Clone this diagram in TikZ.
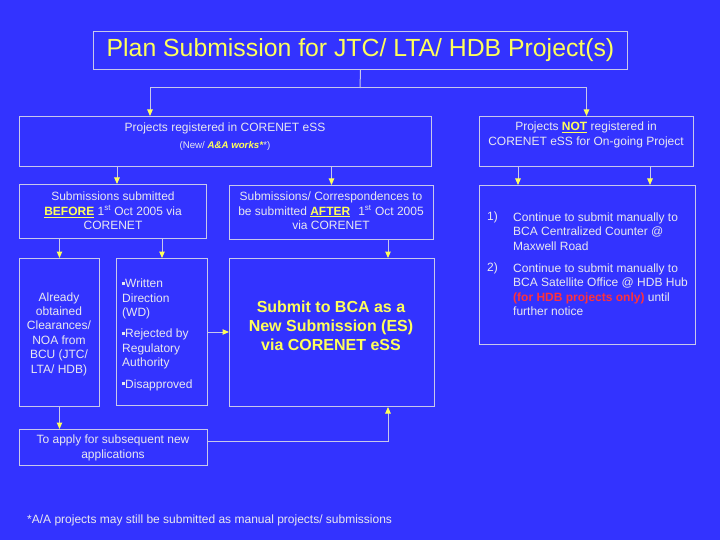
\documentclass[tikz,border=0pt]{standalone}
\usepackage{fontspec}
\setmainfont{Liberation Sans}
\usetikzlibrary{arrows.meta}
\definecolor{bg}{RGB}{51,51,255}
\definecolor{ln}{RGB}{200,200,235}
\definecolor{tx}{RGB}{232,232,240}
\definecolor{yl}{RGB}{255,255,90}
\definecolor{rd}{RGB}{255,50,60}
\newcommand\sqb{\raisebox{2.8pt}{\rule{3pt}{3pt}}}
\begin{document}
\begin{tikzpicture}[x=1pt,y=-1pt,
  box/.style={draw=ln, line width=1pt, inner sep=0pt, anchor=north west},
  txt/.style={text=tx, font=\fontsize{12}{14.5}\selectfont, align=center, inner sep=0pt},
  arr/.style={draw=ln, line width=1pt, -{Triangle[width=5.5pt,length=6.5pt,color=yl]}},
  con/.style={draw=ln, line width=1pt}]
\fill[bg] (0,0) rectangle (720,540);
\useasboundingbox (0,0) rectangle (720,540);

% boxes
\node[box, minimum width=534pt, minimum height=38pt] (T) at (93,31) {};
\node[box, minimum width=412pt, minimum height=50pt] (A) at (19,116) {};
\node[box, minimum width=214pt, minimum height=50pt] (B) at (479,116) {};
\node[box, minimum width=187pt, minimum height=54pt] (C) at (19,184) {};
\node[box, minimum width=204pt, minimum height=54pt] (D) at (229,185) {};
\node[box, minimum width=80pt, minimum height=148pt] (E) at (19,258) {};
\node[box, minimum width=91pt, minimum height=147pt] (F) at (116,258) {};
\node[box, minimum width=205pt, minimum height=148pt] (G) at (229,258) {};
\node[box, minimum width=188pt, minimum height=36pt] (H) at (19,429) {};
\node[box, minimum width=216pt, minimum height=159pt] (I) at (479,185) {};

% texts
\node[text=yl, font=\fontsize{24.8}{28}\selectfont, inner sep=0pt] (Tt) at (T.center) {Plan Submission for JTC/ LTA/ HDB Project(s)};
\node[txt] (At1) at (225,128) {Projects registered in CORENET eSS};
\node[txt, font=\fontsize{9.7}{11}\selectfont] (At2) at (225,146) {(New/ \textcolor{yl}{\textbf{\textit{A\&A works*}}}*)};
\node[txt] (Bt) at (586,135) {Projects \textcolor{yl}{\underline{\textbf{NOT}}} registered in\\CORENET eSS for On-going Project};
\node[txt] (Ct) at (113,211) {Submissions submitted\\\textcolor{yl}{\underline{\textbf{BEFORE}}} 1\textsuperscript{st} Oct 2005 via\\CORENET};
\node[txt] (Dt) at (331,211) {Submissions/ Correspondences to\\be submitted \textcolor{yl}{\underline{\textbf{AFTER}}}\hspace{8pt}1\textsuperscript{st} Oct 2005\\via CORENET};
\node[txt, font=\fontsize{12}{14.4}\selectfont] (Et) at (59,334) {Already\\obtained\\Clearances/\\NOA from\\BCU (JTC/\\LTA/ HDB)};
\node[txt, align=left, anchor=west] (Ft1) at (122,299) {\sqb Written\\Direction\\(WD)};
\node[txt, align=left, anchor=west] (Ft2) at (122,349) {\sqb Rejected by\\Regulatory\\Authority};
\node[txt, align=left, anchor=west] (Ft3) at (122,385) {\sqb Disapproved};
\node[text=yl, font=\bfseries\fontsize{16}{19}\selectfont, align=center, inner sep=0pt] (Gt) at (331,326) {Submit to BCA as a\\New Submission (ES)\\via CORENET eSS};
\node[txt] (Ht) at (113,448) {To apply for subsequent new\\applications};
\node[txt, anchor=west] (In1) at (487,217) {1)};
\node[txt, align=left, anchor=west] (It1) at (513,231.5) {Continue to submit manually to\\BCA Centralized Counter @\\Maxwell Road};
\node[txt, anchor=west] (In2) at (487,268) {2)};
\node[txt, align=left, anchor=west] (It2) at (513,289.5) {Continue to submit manually to\\BCA Satellite Office @ HDB Hub\\\textcolor{rd}{\textbf{(for HDB projects only)}} until\\further notice};
\node[txt, anchor=west] (fn) at (27,520) {*A/A projects may still be submitted as manual projects/ submissions};

% connectors
\coordinate (j) at (360,88);
\draw[con] (T.south) -- (j);
\draw[arr] (j) -| ([xshift=131pt]A.north west);
\draw[arr] (j) -| (B.north);
\draw[arr] ([xshift=98pt]A.south west) -- ([xshift=98pt]A.south west |- C.north);
\draw[arr] (A.south -| D.north) -- (D.north);
\draw[arr] (C.south -| E.north) -- (E.north);
\draw[arr] (C.south -| F.north) -- (F.north);
\draw[arr] ([xshift=159pt]D.south west) -- ([xshift=159pt]D.south west |- G.north);
\draw[arr] (F.east) -- (F.east -| G.west);
\draw[arr] (E.south) -- (E.south |- H.north);
\draw[arr] ([yshift=6pt]H.east) -| ([xshift=159pt]G.south west);
\draw[arr] ([xshift=39pt]B.south west) -- ([xshift=39pt]B.south west |- I.north);
\draw[arr] ([xshift=171pt]B.south west) -- ([xshift=171pt]B.south west |- I.north);
\end{tikzpicture}
\end{document}
